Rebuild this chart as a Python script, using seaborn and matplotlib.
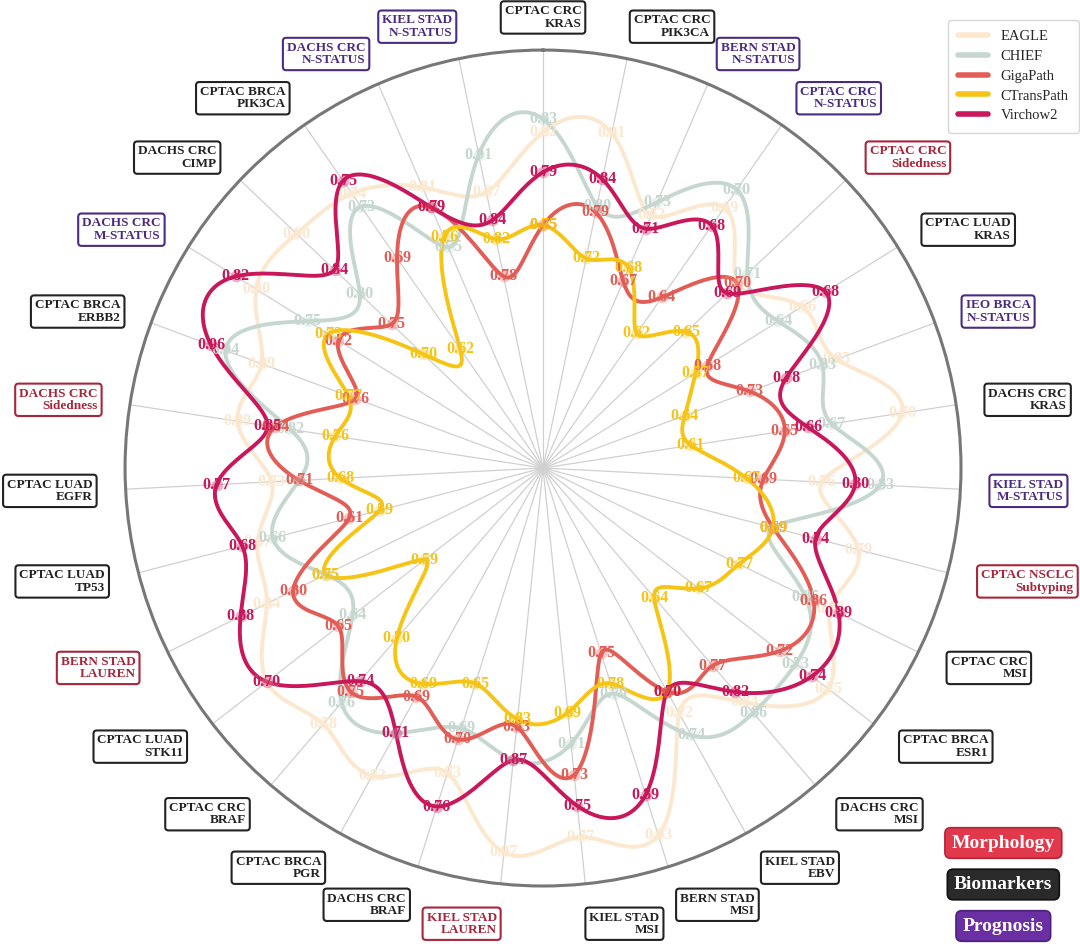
import numpy as np
import pandas as pd
import matplotlib
matplotlib.use("Agg")
import matplotlib.pyplot as plt
from matplotlib.lines import Line2D
import seaborn as sns

# tasks clockwise from the top
tasks = [
    "CPTAC CRC\nKRAS", "CPTAC CRC\nPIK3CA", "BERN STAD\nN-STATUS", "CPTAC CRC\nN-STATUS",
    "CPTAC CRC\nSidedness", "CPTAC LUAD\nKRAS", "IEO BRCA\nN-STATUS", "DACHS CRC\nKRAS",
    "KIEL STAD\nM-STATUS", "CPTAC NSCLC\nSubtyping", "CPTAC CRC\nMSI", "CPTAC BRCA\nESR1",
    "DACHS CRC\nMSI", "KIEL STAD\nEBV", "BERN STAD\nMSI", "KIEL STAD\nMSI",
    "KIEL STAD\nLAUREN", "DACHS CRC\nBRAF", "CPTAC BRCA\nPGR", "CPTAC CRC\nBRAF",
    "CPTAC LUAD\nSTK11", "BERN STAD\nLAUREN", "CPTAC LUAD\nTP53", "CPTAC LUAD\nEGFR",
    "DACHS CRC\nSidedness", "CPTAC BRCA\nERBB2", "DACHS CRC\nM-STATUS", "DACHS CRC\nCIMP",
    "CPTAC BRCA\nPIK3CA", "DACHS CRC\nN-STATUS", "KIEL STAD\nN-STATUS",
]
task_group = [
    "Biomarkers", "Biomarkers", "Prognosis", "Prognosis", "Morphology", "Biomarkers",
    "Prognosis", "Biomarkers", "Prognosis", "Morphology", "Biomarkers", "Biomarkers",
    "Biomarkers", "Biomarkers", "Biomarkers", "Biomarkers", "Morphology", "Biomarkers",
    "Biomarkers", "Biomarkers", "Biomarkers", "Morphology", "Biomarkers", "Biomarkers",
    "Morphology", "Biomarkers", "Prognosis", "Biomarkers", "Biomarkers", "Prognosis",
    "Prognosis",
]

models = ["EAGLE", "CHIEF", "GigaPath", "CTransPath", "Virchow2"]
eagle = [0.82, 0.91, 0.72, 0.69, 0.70, 0.66, 0.85, 0.70, 0.76, 0.79, 0.88, 0.75, 0.84, 0.72, 0.93, 0.77,
         0.97, 0.73, 0.73, 0.78, 0.70, 0.84, 0.67, 0.73, 0.89, 0.89, 0.80, 0.90, 0.74, 0.81, 0.87]
chief = [0.83, 0.80, 0.73, 0.70, 0.71, 0.64, 0.83, 0.67, 0.83, 0.69, 0.85, 0.73, 0.86, 0.74, 0.79, 0.71,
         0.87, 0.69, 0.71, 0.76, 0.64, 0.75, 0.66, 0.71, 0.82, 0.94, 0.75, 0.80, 0.73, 0.75, 0.91]
gigapath = [0.75, 0.79, 0.67, 0.64, 0.70, 0.58, 0.73, 0.65, 0.69, 0.69, 0.86, 0.72, 0.77, 0.70, 0.75, 0.73,
            0.834, 0.70, 0.693, 0.75, 0.65, 0.80, 0.61, 0.71, 0.84, 0.76, 0.72, 0.75, 0.69, 0.79, 0.78]
ctranspath = [0.75, 0.72, 0.68, 0.62, 0.65, 0.57, 0.64, 0.61, 0.67, 0.69, 0.77, 0.67, 0.64, 0.70, 0.78, 0.69,
              0.826, 0.65, 0.687, 0.70, 0.59, 0.75, 0.59, 0.68, 0.76, 0.77, 0.73, 0.70, 0.62, 0.76, 0.82]
virchow2 = [0.79, 0.84, 0.71, 0.68, 0.69, 0.68, 0.78, 0.66, 0.80, 0.74, 0.89, 0.74, 0.82, 0.70, 0.89, 0.75,
            0.87, 0.76, 0.71, 0.74, 0.70, 0.88, 0.68, 0.77, 0.85, 0.96, 0.82, 0.84, 0.75, 0.79, 0.84]

# radial range of every task axis (value at centre, value at outer ring)
axis_lo = [0.567, 0.402, 0.528, 0.545, 0.509, 0.441, 0.444, 0.547, 0.426, 0.420, 0.534, 0.574, 0.393, 0.495,
           0.567, 0.533, 0.554, 0.457, 0.586, 0.541, 0.507, 0.419, 0.483, 0.533, 0.484, 0.500, 0.521, 0.511,
           0.528, 0.528, 0.575]
axis_hi = [0.882, 1.023, 0.820, 0.736, 0.807, 0.741, 0.986, 0.723, 0.926, 0.895, 0.986, 0.778, 0.998, 0.830,
           0.961, 0.800, 1.004, 0.814, 0.757, 0.837, 0.738, 0.991, 0.748, 0.836, 1.033, 1.043, 0.866, 0.989,
           0.793, 0.914, 1.013]

colors = {"EAGLE": "#fbe8cf", "CHIEF": "#c6d7d0", "GigaPath": "#e35d57",
          "CTransPath": "#f5c414", "Virchow2": "#c8175b"}
group_colors = {"Morphology": "#a8253a", "Biomarkers": "#222222", "Prognosis": "#4b2a82"}
button_colors = {"Morphology": ("#e2384c", "#b02838"), "Biomarkers": ("#2a2a2a", "#111111"),
                 "Prognosis": ("#6a2fa2", "#4b1f7a")}

df = pd.DataFrame({"task": tasks, "EAGLE": eagle, "CHIEF": chief, "GigaPath": gigapath,
                   "CTransPath": ctranspath, "Virchow2": virchow2,
                   "lo": axis_lo, "hi": axis_hi})

n = len(tasks)
step = 2 * np.pi / n
theta = np.arange(n) * step


def periodic_spline(r, n_sub=24):
    # periodic cubic spline of r(theta) through equally spaced spokes
    A = 4 * np.eye(n) + np.roll(np.eye(n), 1, axis=1) + np.roll(np.eye(n), -1, axis=1)
    rhs = 6 / step**2 * (np.roll(r, 1) - 2 * r + np.roll(r, -1))
    M = np.linalg.solve(A, rhs)
    t = np.linspace(0, 1, n_sub, endpoint=False)
    th, rr = [], []
    for i in range(n):
        j = (i + 1) % n
        a, b = 1 - t, t
        seg = a * r[i] + b * r[j] + ((a**3 - a) * M[i] + (b**3 - b) * M[j]) * step**2 / 6
        th.append(theta[i] + t * step)
        rr.append(seg)
    th = np.concatenate(th + [[2 * np.pi]])
    rr = np.concatenate(rr + [[r[0]]])
    return th, rr


sns.set_theme(style="white")
serif = ["Liberation Serif", "DejaVu Serif"]
plt.rcParams["font.family"] = serif

fig = plt.figure(figsize=(10.8, 9.46), dpi=100)
ax = fig.add_axes([0.1158, 0.0634, 0.774, 0.8837], projection="polar")
ax.set_theta_zero_location("N")
ax.set_theta_direction(-1)
ax.set_ylim(0, 1)
ax.set_xticks(theta)
ax.set_xticklabels([])
ax.set_yticks([])
ax.xaxis.grid(True, color="#d0d0d0", linewidth=0.9)
ax.yaxis.grid(False)
ax.spines["polar"].set_color("#777777")
ax.spines["polar"].set_linewidth(2.2)
ax.set_facecolor("white")

span = df["hi"] - df["lo"]
for k, m in enumerate(models):
    r = ((df[m] - df["lo"]) / span).to_numpy()
    th, rr = periodic_spline(r)
    sns.lineplot(x=th, y=rr, ax=ax, sort=False, estimator=None, color=colors[m],
                 linewidth=2.8, zorder=2 + k * 0.1)

for k, m in enumerate(models):
    r = ((df[m] - df["lo"]) / span).to_numpy()
    ax.scatter(theta, r, s=70, color=colors[m], alpha=0.35, linewidths=0, zorder=5 + k)
    for i in range(n):
        ax.text(theta[i], r[i], f"{df[m][i]:.2f}", ha="center", va="center",
                color=colors[m], fontsize=11.5, fontweight="bold", family=serif,
                zorder=5.5 + k)

# task labels around the ring, inner edge of each box sits on its spoke
for i in range(n):
    s, c = np.sin(theta[i]), np.cos(theta[i])
    if abs(s) < 0.05:
        ha = "center"
    else:
        ha = "left" if s > 0 else "right"
    r_lab = 1.078 + 0.018 * max(0.0, -c)
    col = group_colors[task_group[i]]
    ax.text(theta[i], r_lab, tasks[i], ha=ha, va="center", multialignment="right",
            color=col, fontsize=9.5, fontweight="bold", family=serif, linespacing=1.05,
            bbox=dict(boxstyle="round,pad=0.3,rounding_size=0.25", fc="white", ec=col, lw=1.5))

handles = [Line2D([0], [0], color=colors[m], lw=4) for m in models]
leg = fig.legend(handles, models, loc="upper right", bbox_to_anchor=(0.999, 0.979),
                 borderaxespad=0.0,
                 prop={"family": serif, "size": 10.5}, handlelength=2.0, frameon=True,
                 borderpad=0.7, labelspacing=0.45, fancybox=True, handletextpad=0.9)
leg.get_frame().set_edgecolor("#cccccc")

for j, g in enumerate(["Morphology", "Biomarkers", "Prognosis"]):
    fc, ec = button_colors[g]
    fig.text(0.929, 1 - (843 + 41.5 * j) / 946, g, ha="center", va="center", color="white",
             fontsize=14, fontweight="bold", family=serif,
             bbox=dict(boxstyle="round,pad=0.35,rounding_size=0.3", fc=fc, ec=ec, lw=1.2))

fig.savefig("out.png", dpi=100, facecolor="white")
